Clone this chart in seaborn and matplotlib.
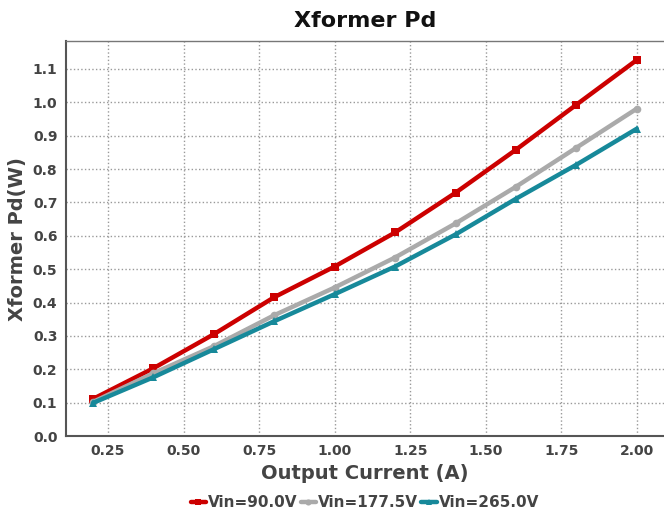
import numpy as np
import pandas as pd
import seaborn as sns
import matplotlib.pyplot as plt

# Output current (A)
current = [0.2, 0.4, 0.6, 0.8, 1.0, 1.2, 1.4, 1.6, 1.8, 2.0]

# Transformer power dissipation (W) per input voltage
pd_90 = [0.111, 0.203, 0.305, 0.416, 0.508, 0.610, 0.729, 0.858, 0.993, 1.127]
pd_177 = [0.102, 0.188, 0.269, 0.362, 0.445, 0.535, 0.637, 0.747, 0.864, 0.981]
pd_265 = [0.099, 0.176, 0.260, 0.344, 0.425, 0.508, 0.604, 0.711, 0.813, 0.921]

series_names = ['Vin=90.0V', 'Vin=177.5V', 'Vin=265.0V']
colors = ['#CC0000', '#AAAAAA', '#17899A']
markers = ['s', 'o', '^']

df = pd.DataFrame({
    'current': current * 3,
    'pd': pd_90 + pd_177 + pd_265,
    'series': [s for s in series_names for _ in current],
})

sns.set_style('white')
plt.rcParams['font.family'] = ['DejaVu Sans']

fig = plt.figure(figsize=(6.64, 5.16), dpi=100)
ax = fig.add_axes([0.099, 0.155, 0.901, 0.765])

sns.lineplot(data=df, x='current', y='pd', hue='series', style='series',
             palette=colors, markers=markers, dashes=False, linewidth=3.2,
             markersize=5.5, markeredgewidth=0, ax=ax)

ax.set_ylim(0, 1.183)
ax.set_xlim(0.11, 2.09)
ax.set_yticks(np.arange(0, 1.15, 0.1))
ax.set_xticks([0.25, 0.5, 0.75, 1.0, 1.25, 1.5, 1.75, 2.0])
ax.yaxis.set_major_formatter(plt.FormatStrFormatter('%.1f'))
ax.xaxis.set_major_formatter(plt.FormatStrFormatter('%.2f'))

ax.grid(True, linestyle=':', color='#999999', linewidth=1)
for side in ['left', 'bottom']:
    ax.spines[side].set_color('#555555')
    ax.spines[side].set_linewidth(1.5)
ax.spines['top'].set_color('#777777')
ax.spines['top'].set_linewidth(1.0)
ax.spines['right'].set_visible(False)

ax.tick_params(axis='both', labelsize=10, colors='#444444', length=0, pad=6)
for lbl in ax.get_xticklabels() + ax.get_yticklabels():
    lbl.set_fontweight('bold')

ax.set_title('Xformer Pd', fontsize=16, fontweight='bold', color='#111111', pad=10)
ax.set_xlabel('Output Current (A)', fontsize=14, fontweight='bold', color='#444444')
ax.set_ylabel('Xformer Pd(W)', fontsize=14, fontweight='bold', color='#444444')

leg = ax.legend(loc='upper center', bbox_to_anchor=(0.5, -0.115), ncol=3,
                frameon=False, handlelength=1.0, handletextpad=0.15,
                columnspacing=0.2, markerscale=0.8,
                prop={'weight': 'bold', 'size': 11})
for txt in leg.get_texts():
    txt.set_color('#444444')

fig.savefig('out.png', dpi=100)
